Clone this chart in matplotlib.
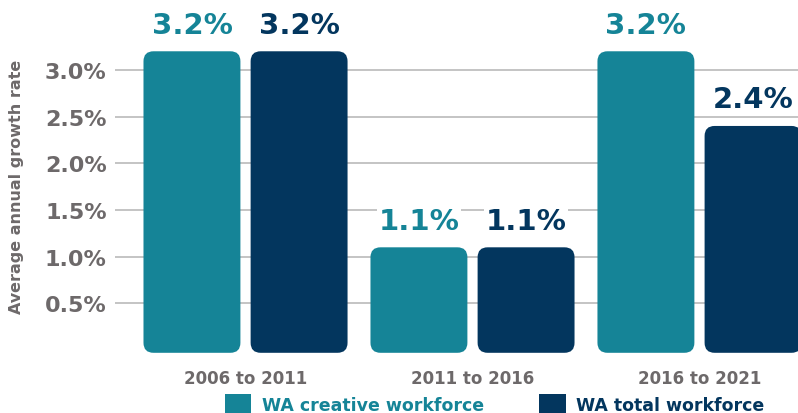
import numpy as np
import matplotlib
matplotlib.use("Agg")
import matplotlib.pyplot as plt
from matplotlib.patches import FancyBboxPatch, Patch

plt.rcParams['font.family'] = ['DejaVu Sans']

periods = ['2006 to 2011', '2011 to 2016', '2016 to 2021']
series = ['WA creative workforce', 'WA total workforce']
creative = [3.2, 1.1, 3.2]
total = [3.2, 1.1, 2.4]
yticks = [0.5, 1.0, 1.5, 2.0, 2.5, 3.0]

teal = '#158497'
navy = '#03365e'
gray = '#6d696a'
grid_c = '#b4b4b4'

W, H = 7.98, 4.14
fig = plt.figure(figsize=(W, H), dpi=100)
ax = fig.add_axes([115 / 798, 1 - 351 / 414, 683 / 798, 351 / 414])

x = np.arange(len(periods))
xlim = (-0.575, 2.434)
ylim = (0, 3.76)
ax.set_xlim(*xlim)
ax.set_ylim(*ylim)

width = 0.427
offset = 0.236

# pixels per data unit, used to keep corners round
px_x = ax.get_position().width * W * 100 / (xlim[1] - xlim[0])
px_y = ax.get_position().height * H * 100 / (ylim[1] - ylim[0])
r = 10 / px_x
aspect = px_x / px_y

for vals, off, col in [(creative, -offset, teal), (total, offset, navy)]:
    for xi, v in zip(x, vals):
        left = xi + off - width / 2
        box = FancyBboxPatch((left, -0.03), width, v + 0.03,
                             boxstyle=f"round,pad=0,rounding_size={r}",
                             mutation_aspect=aspect,
                             facecolor=col, edgecolor='none', zorder=3,
                             clip_on=False)
        ax.add_patch(box)
        ax.annotate(f"{v:.1f}%", (xi + off, v), xytext=(0, 9),
                    textcoords='offset points', ha='center', va='bottom',
                    fontsize=21, fontweight='bold', color=col, zorder=4,
                    bbox=dict(facecolor='white', edgecolor='none', pad=1))

ax.set_yticks(yticks)
ax.set_yticklabels([f"{t:.1f}%" for t in yticks], fontsize=16,
                   fontweight='bold', color=gray)
ax.yaxis.grid(True, color=grid_c, linewidth=1.1, zorder=0)
ax.set_axisbelow(True)
ax.tick_params(axis='y', length=0, pad=6)
ax.set_xticks(x)
ax.set_xticklabels(periods, fontsize=12, fontweight='bold', color=gray)
ax.tick_params(axis='x', length=0, pad=14)
for s in ax.spines.values():
    s.set_visible(False)

fig.text(17 / 798, 1 - 187 / 414, 'Average annual growth rate', rotation=90,
         ha='center', va='center', fontsize=11.5, fontweight='bold', color=gray)

handles = [Patch(facecolor=teal), Patch(facecolor=navy)]
leg = fig.legend(handles, series, loc='center', ncol=2,
                 bbox_to_anchor=(0.62, 1 - 405 / 414), frameon=False,
                 prop=dict(size=12.5, weight='bold'),
                 handlelength=1.5, handleheight=1.3, handletextpad=0.6,
                 columnspacing=3.2, borderaxespad=0, borderpad=0)
for t, c in zip(leg.get_texts(), [teal, navy]):
    t.set_color(c)

fig.savefig('out.png', dpi=100)
